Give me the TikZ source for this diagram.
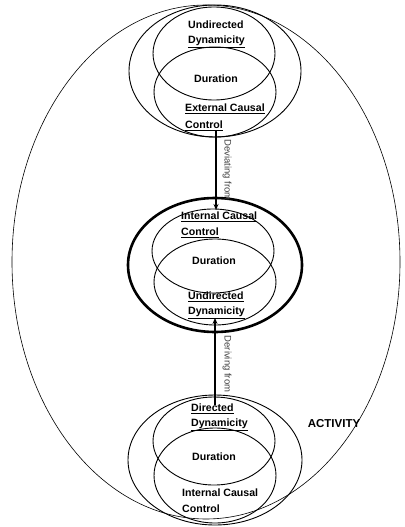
\documentclass[tikz,border=0pt]{standalone}
\usepackage{fontspec}
\setmainfont{Liberation Sans}
\usetikzlibrary{shapes.geometric,arrows.meta}
\begin{document}
\begin{tikzpicture}[x=1pt,y=-1pt,
  ring/.style={draw,ellipse,inner sep=0pt,outer sep=0pt,line width=0.9pt},
  thickring/.style={draw,ellipse,inner sep=0pt,outer sep=0pt,line width=2.6pt},
  big/.style={draw,ellipse,inner sep=0pt,outer sep=0pt,line width=0.6pt},
  lbl/.style={inner sep=0pt,anchor=west,font=\fontsize{10.6}{12}\selectfont\bfseries},
  dur/.style={inner sep=0pt,font=\fontsize{10.6}{12}\selectfont\bfseries},
  rel/.style={inner sep=0pt,rotate=-90,text=black!75,font=\fontsize{9.5}{11}\selectfont},
  link/.style={line width=1.8pt,-{Stealth[length=6pt,width=5pt]}}]
\useasboundingbox (0,0) rectangle (404,527);
% ACTIVITY ellipse
\node[big,minimum width=388pt,minimum height=514pt] (act) at (206,262) {};
\node[inner sep=0pt,font=\fontsize{11.5}{13}\selectfont\bfseries] (actl) at (334,424) {ACTIVITY};
% top group
\node[ring,minimum width=172pt,minimum height=132pt] (g1o) at (215,71) {};
\node[ring,minimum width=122pt,minimum height=93pt] (g1a) at (214,53.5) {};
\node[ring,minimum width=122pt,minimum height=90pt] (g1b) at (215,92) {};
\node[lbl] (t1a) at (188,25) {Undirected};
\node[lbl] (t1b) at (188,42) {\underline{Dynamicity}};
\node[dur] (t1c) at (216,79) {Duration};
\node[lbl] (t1d) at (185,109) {\underline{External Causal}};
\node[lbl] (t1e) at (185,126) {\underline{Control}};
% middle group
\node[thickring,minimum width=174pt,minimum height=134pt] (g2o) at (215,265) {};
\node[ring,minimum width=122pt,minimum height=84pt] (g2a) at (213,251) {};
\node[ring,minimum width=122pt,minimum height=86pt] (g2b) at (215,282) {};
\node[lbl] (t2a) at (181,217) {\underline{Internal Causal}};
\node[lbl] (t2b) at (181,233) {\underline{Control}};
\node[dur] (t2c) at (214,261) {Duration};
\node[lbl] (t2d) at (188,297) {\underline{Undirected}};
\node[lbl] (t2e) at (188,313) {\underline{Dynamicity}};
% bottom group
\node[ring,minimum width=174pt,minimum height=130pt] (g3o) at (215,460) {};
\node[ring,minimum width=122pt,minimum height=88pt] (g3a) at (214,441) {};
\node[ring,minimum width=122pt,minimum height=95pt] (g3b) at (215,475.5) {};
\node[lbl] (t3a) at (191,409) {\underline{Directed}};
\node[lbl] (t3b) at (191,425) {\underline{Dynamicity}};
\node[dur] (t3c) at (214,457) {Duration};
\node[lbl] (t3d) at (182,493) {Internal Causal};
\node[lbl] (t3e) at (182,509) {Control};
% connectors
\coordinate (a1s) at (216,131);
\coordinate (a1e) at (216,210);
\coordinate (a2s) at (215,405);
\coordinate (a2e) at (215,318);
\draw[link] (a1s) -- (a1e);
\draw[link] (a2s) -- (a2e);
\node[rel] (r1) at (227,170) {Deviating from};
\node[rel] (r2) at (227,364) {Deriving from};
\end{tikzpicture}
\end{document}
